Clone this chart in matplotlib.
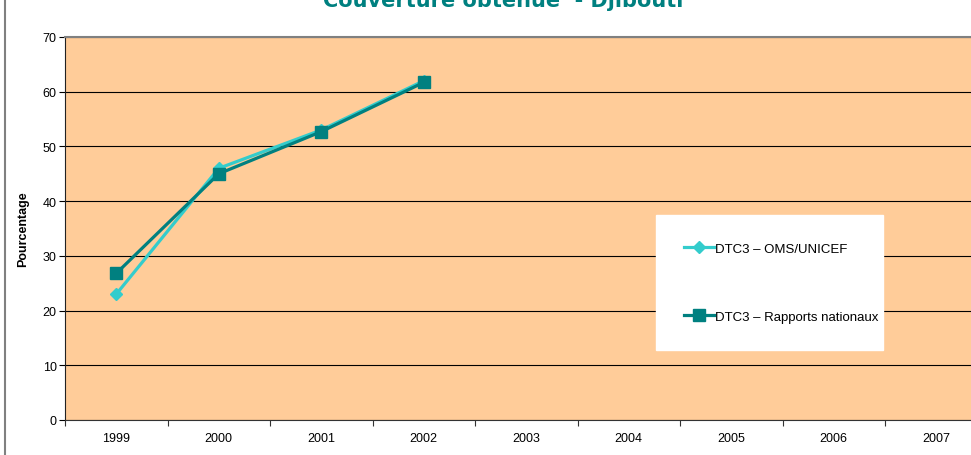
import matplotlib.pyplot as plt
import numpy as np
from matplotlib.lines import Line2D

years = ['1999', '2000', '2001', '2002', '2003', '2004', '2005', '2006', '2007']
oms_unicef = [23, 46, 53, 62]
rapports = [26.8, 45, 52.7, 61.7]

plt.rcParams['font.family'] = ['Liberation Sans', 'DejaVu Sans']

W, H = 971, 456
fig = plt.figure(figsize=(W / 100, H / 100), dpi=100)
ax = fig.add_axes([65 / W, 1 - 421 / H, 9 * 102.5 / W, (421 - 38) / H])
ax.set_facecolor('#FFCC99')

x = np.arange(len(years))
ax.plot(x[:len(oms_unicef)], oms_unicef, color='#33CCCC', lw=2.3, marker='D', ms=6,
        label='DTC3 – OMS/UNICEF')
ax.plot(x[:len(rapports)], rapports, color='#008080', lw=2.3, marker='s', ms=8,
        label='DTC3 – Rapports nationaux')

ax.set_xlim(-0.5, len(years) - 0.5)
ax.set_ylim(0, 70)
ax.set_yticks(range(0, 71, 10))
ax.set_xticks(np.arange(-0.5, len(years), 1))
ax.set_xticklabels([])
ax.set_xticks(x, minor=True)
ax.set_xticklabels(years, minor=True)
ax.tick_params(axis='x', which='minor', length=0, pad=9, labelsize=9)
ax.tick_params(axis='x', which='major', length=4, color='#333333')
ax.tick_params(axis='y', length=4, labelsize=9, pad=2)
ax.grid(axis='y', color='black', lw=0.8)
ax.set_axisbelow(True)
ax.spines['right'].set_visible(False)
ax.spines['top'].set_color('#808080')
ax.spines['top'].set_linewidth(1.5)
ax.spines['left'].set_color('#222222')
ax.spines['bottom'].set_color('#333333')
ax.set_ylabel('Pourcentage', fontsize=9, fontweight='bold', labelpad=10)

leg = ax.legend(loc='upper left', bbox_to_anchor=(656 / W, 1 - 354 / H, 227 / W, 138 / H),
                bbox_transform=fig.transFigure, mode='expand', frameon=True, fancybox=False,
                fontsize=9.5, labelspacing=4.2, borderpad=2.1, handlelength=2.3,
                handletextpad=0.1, borderaxespad=0)
leg.get_frame().set_facecolor('white')
leg.get_frame().set_edgecolor('white')
leg.get_frame().set_alpha(1)

fig.text(503 / W, 1 - 7 / H, 'Couverture obtenue  - Djibouti', ha='center', va='baseline',
         fontsize=15, fontweight='bold', color='#008080', family='DejaVu Sans')
fig.add_artist(Line2D([5 / W, 5 / W], [0, 1], transform=fig.transFigure, color='#808080', lw=1.5))

fig.savefig('out.png', dpi=100)
